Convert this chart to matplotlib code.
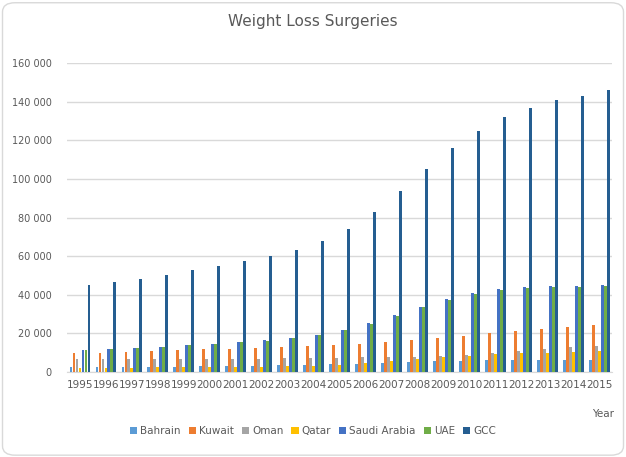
import numpy as np
import matplotlib.pyplot as plt
from matplotlib.patches import FancyBboxPatch
from matplotlib.ticker import FuncFormatter

years = list(range(1995, 2016))
bahrain = [2600, 2600, 2600, 2600, 2600, 3100, 3100, 3100, 3600, 3600, 4100,
           4100, 4700, 5200, 5700, 5700, 6200, 6200, 6200, 6200, 6200]
kuwait = [9800, 9800, 10400, 10900, 11400, 11900, 11900, 12400, 12900, 13500, 14000,
          14500, 15500, 16600, 17600, 18600, 20200, 21200, 22300, 23300, 24300]
oman = [6700, 6700, 6700, 6700, 6700, 6700, 6700, 6700, 7200, 7200, 7200,
        7800, 7800, 7800, 8300, 8800, 9800, 10900, 11900, 12900, 13500]
qatar = [2100, 2100, 2100, 2600, 2600, 2600, 2600, 2600, 3100, 3100, 3600,
         4700, 5700, 6700, 7800, 8300, 9300, 9800, 9800, 10400, 10900]
saudi = [11400, 12000, 12400, 13000, 14000, 14500, 15500, 16600, 17600, 19200, 21700,
         25400, 29500, 33700, 37800, 40900, 43000, 44000, 44500, 44500, 45000]
uae = [11400, 12000, 12400, 13000, 14000, 14500, 15500, 16000, 17600, 19200, 21700,
       24900, 29000, 33700, 37300, 40400, 42500, 43500, 44000, 44000, 44500]
gcc = [45000, 46600, 48150, 50200, 52800, 54900, 57500, 60000, 63200, 67800, 74000,
       82800, 93700, 105000, 116000, 124800, 132000, 136700, 140800, 143000, 146000]

names = ["Bahrain", "Kuwait", "Oman", "Qatar", "Saudi Arabia", "UAE", "GCC"]
series = [bahrain, kuwait, oman, qatar, saudi, uae, gcc]
colors = ["#5B9BD5", "#ED7D31", "#A5A5A5", "#FFC000", "#4472C4", "#70AD47", "#255E91"]

txt = "#595959"
fig = plt.figure(figsize=(6.26, 4.57), dpi=100)
fig.patches.append(FancyBboxPatch((0.004, 0.004), 0.992, 0.99,
                                  boxstyle="round,pad=0,rounding_size=0.02",
                                  transform=fig.transFigure, fc="white",
                                  ec="#D9D9D9", lw=1, zorder=-10))
ax = fig.add_axes([0.107, 0.186, 0.871, 0.676])
ax.set_facecolor("none")

x = np.arange(len(years))
w = 0.115
for i, (nm, vals, c) in enumerate(zip(names, series, colors)):
    ax.bar(x + (i - 3) * w, vals, width=w * 0.95, color=c, label=nm, zorder=3)

ax.set_xlim(-0.5, len(years) - 0.5)
ax.set_ylim(0, 160000)
ax.set_yticks(range(0, 160001, 20000))
ax.yaxis.set_major_formatter(FuncFormatter(lambda v, p: f"{int(v):,}".replace(",", " ")))
ax.set_xticks(x)
ax.set_xticklabels(years)
ax.grid(axis="y", color="#D9D9D9", lw=1, zorder=0)
for s in ["top", "right", "left"]:
    ax.spines[s].set_visible(False)
ax.spines["bottom"].set_color("#D9D9D9")
ax.tick_params(length=0, labelsize=7.5, colors=txt)
ax.tick_params(axis="y", pad=11, labelsize=7)
ax.tick_params(axis="x", pad=6)

fig.text(0.5, 0.952, "Weight Loss Surgeries", ha="center", va="center",
         fontsize=11, color=txt)
fig.text(0.981, 0.094, "Year", ha="right", va="center", fontsize=7.5, color=txt)
fig.legend(loc="center", bbox_to_anchor=(0.5, 0.057), ncol=7, frameon=False,
           fontsize=7.5, handlelength=0.7, handleheight=0.7, handletextpad=0.3,
           columnspacing=0.75, labelcolor=txt)

fig.savefig("out.png", dpi=100)
